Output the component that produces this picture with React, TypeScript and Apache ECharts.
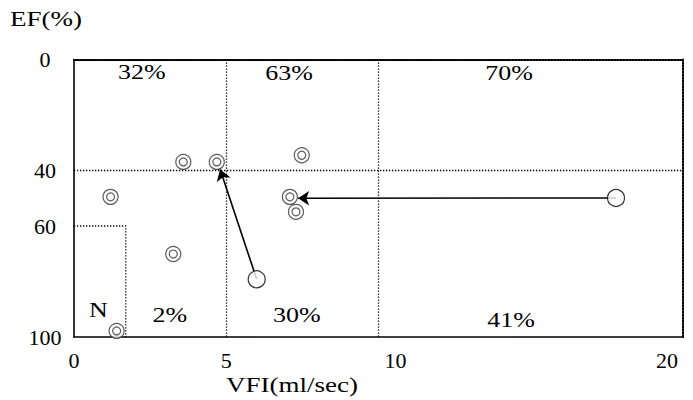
import React, { useEffect, useRef } from "react";
import * as echarts from "echarts";

const xTicks = [0, 5, 10, 20];
const yTicks = [0, 40, 60, 100];
const xGrid = [5, 10];
const yGrid = [40];

// double-circle patients [VFI, EF]
const patients: [number, number][] = [
  [3.59, 36.9],
  [4.69, 36.9],
  [7.48, 34.5],
  [1.2, 49.5],
  [7.09, 49.5],
  [7.29, 54.9],
  [3.26, 70.1],
  [1.4, 97.8],
];
// large open circles (arrow start points)
const starts: [number, number][] = [
  [6.0, 79.2],
  [17.8, 49.9],
];
// arrow end points
const ends: [number, number][] = [
  [4.8, 39.6],
  [7.36, 50.0],
];
// normal region box corner
const normalBox: [number, number][] = [
  [0, 60],
  [1.7, 60],
  [1.7, 100],
];
// region labels
const regionText = ["32%", "63%", "70%", "N", "2%", "30%", "41%"];
const regionX = [2.23, 7.06, 14.29, 0.8, 3.15, 7.32, 14.35];
const regionY = [4.7, 4.9, 4.9, 90.3, 92.1, 92.1, 93.9];

const FONT = "Liberation Serif";

export default function App() {
  const ref = useRef<HTMLDivElement>(null);
  useEffect(() => {
    document.body.style.margin = "0";
    const chart = echarts.init(ref.current!, undefined, { renderer: "svg" });
    const dotted = { color: "#000", width: 1.3, type: [1.3, 1.7] as any };
    const frameDotted = { color: "#000", width: 2, type: [1.5, 1.5] as any };
    const hidden = { show: false };
    chart.setOption({
      animation: false,
      backgroundColor: "#fff",
      grid: { left: 74, right: 10, top: 59.5, bottom: 63 },
      xAxis: [
        {
          type: "value",
          min: 0,
          max: 20,
          axisLine: { onZero: false, lineStyle: { color: "#000", width: 1.6 } },
          axisTick: hidden,
          splitLine: hidden,
          axisLabel: {
            customValues: xTicks,
            margin: 12,
            color: "#000",
            fontFamily: FONT,
            fontSize: 22,
            formatter: (v: number) =>
              v === 10 ? "{r|10}" : v === 20 ? "{l|20}" : String(v),
            rich: {
              r: { padding: [0, 0, 0, 34], fontFamily: FONT, fontSize: 22, color: "#000" },
              l: { padding: [0, 32, 0, 0], fontFamily: FONT, fontSize: 22, color: "#000" },
            },
          },
        },
        {
          type: "value",
          position: "top",
          min: 0,
          max: 20,
          axisLine: { show: true, onZero: false, lineStyle: frameDotted },
          axisTick: hidden,
          splitLine: hidden,
          axisLabel: hidden,
        },
      ],
      yAxis: [
        {
          type: "value",
          min: 0,
          max: 100,
          inverse: true,
          axisLine: { show: true, onZero: false, lineStyle: { color: "#000", width: 1.6 } },
          axisTick: hidden,
          splitLine: hidden,
          axisLabel: {
            customValues: yTicks,
            margin: 29,
            align: "center",
            color: "#000",
            fontFamily: FONT,
            fontSize: 22,
          },
        },
        {
          type: "value",
          position: "right",
          min: 0,
          max: 100,
          inverse: true,
          axisLine: { show: true, onZero: false, lineStyle: frameDotted },
          axisTick: hidden,
          splitLine: hidden,
          axisLabel: hidden,
        },
      ],
      series: [
        {
          type: "line",
          data: normalBox,
          symbol: "none",
          lineStyle: dotted,
          z: 1,
          markLine: {
            silent: true,
            symbol: "none",
            label: { show: false },
            lineStyle: dotted,
            data: [
              ...xGrid.map((v) => ({ xAxis: v })),
              ...yGrid.map((v) => ({ yAxis: v })),
            ],
          },
        },
        {
          type: "lines",
          coordinateSystem: "cartesian2d",
          symbol: ["none", "arrow"],
          symbolSize: 11,
          lineStyle: { color: "#000", width: 1.6, opacity: 1 },
          data: starts.map((s, i) => ({ coords: [s, ends[i]] })),
          z: 3,
        },
        {
          type: "scatter",
          data: patients,
          symbol: "circle",
          symbolSize: 15,
          itemStyle: { color: "#fff", borderColor: "#333", borderWidth: 1.2 },
          z: 4,
        },
        {
          type: "scatter",
          data: patients,
          symbol: "circle",
          symbolSize: 8,
          itemStyle: { color: "#fff", borderColor: "#333", borderWidth: 1.2 },
          z: 5,
        },
        {
          type: "scatter",
          data: starts,
          symbol: "circle",
          symbolSize: 17,
          itemStyle: { color: "#fff", borderColor: "#000", borderWidth: 1.2 },
          z: 6,
        },
      ],
    });
    const labelGraphics = regionText.map((t, i) => {
      const p = chart.convertToPixel({ gridIndex: 0 }, [regionX[i], regionY[i]]) as number[];
      return {
        type: "text",
        x: p[0],
        y: p[1],
        scaleX: 1.3,
        style: {
          text: t,
          fill: "#000",
          fontFamily: FONT,
          fontSize: 20,
          align: "center",
          verticalAlign: "middle",
        },
        z: 10,
      };
    });
    chart.setOption({
      graphic: [
        {
          type: "text",
          x: 46,
          y: 19,
          scaleX: 1.35,
          style: { text: "EF(%)", fill: "#000", fontFamily: FONT, fontSize: 20, align: "center", verticalAlign: "middle" },
        },
        {
          type: "text",
          x: 292,
          y: 385,
          scaleX: 1.35,
          style: { text: "VFI(ml/sec)", fill: "#000", fontFamily: FONT, fontSize: 20, align: "center", verticalAlign: "middle" },
        },
        ...labelGraphics,
      ],
    });
    return () => chart.dispose();
  }, []);
  return <div ref={ref} style={{ width: 693, height: 400 }} />;
}
